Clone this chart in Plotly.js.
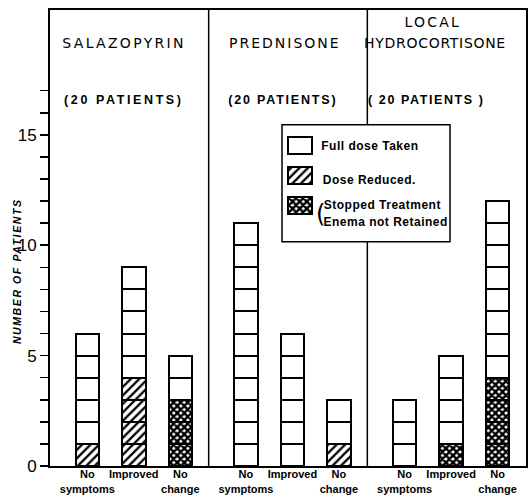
<!DOCTYPE html>
<html>
<head>
<meta charset="utf-8">
<script src="https://cdn.plot.ly/plotly-3.0.1.min.js"></script>
<style>
  html, body { margin: 0; padding: 0; background: #fff; }
  #chart { width: 529px; height: 497px; }
  .annotation[data-index="0"] text { letter-spacing: 2.3px; }
  .annotation[data-index="1"] text { letter-spacing: 2px; }
  .annotation[data-index="2"] text { letter-spacing: 2.2px; }
  .annotation[data-index="3"] text { letter-spacing: 0.7px; }
  .annotation[data-index="4"] text { letter-spacing: 2.6px; }
  .annotation[data-index="5"] text { letter-spacing: 1.8px; }
  .annotation[data-index="6"] text { letter-spacing: 1.6px; }
  .annotation[data-index="7"] text { letter-spacing: 1.6px; }
  .annotation[data-index="8"] text, .annotation[data-index="9"] text,
  .annotation[data-index="10"] text, .annotation[data-index="11"] text { letter-spacing: 0.5px; }
</style>
</head>
<body>
<div id="chart"></div>
<script>
// ---- data ----
const treatments = ['SALAZOPYRIN', 'PREDNISONE', 'LOCAL HYDROCORTISONE'];
const patientLabels = ['(20 PATIENTS)', '(20 PATIENTS)', '( 20 PATIENTS )'];
const outcomes = ['No<br>symptoms', 'Improved', 'No<br>change'];
// per bar, in order: Salazopyrin (3 outcomes), Prednisone (3), Local hydrocortisone (3)
const fullDose     = [5, 5, 2,  11, 6, 2,  3, 4, 8];
const doseReduced  = [1, 4, 0,   0, 0, 1,  0, 0, 0];
const stoppedTreat = [0, 0, 3,   0, 0, 0,  0, 1, 4];
const yTickVals = [0,1,2,3,4,5,6,7,8,9,10,11,12,13,14,15,16,17];
const yTickText = yTickVals.map(v => (v % 5 === 0 ? String(v) : ''));
const legendNames = ['Full dose Taken', 'Dose Reduced.', 'Stopped Treatment', 'Enema not Retained'];

// ---- layout helpers ----
const L = 50, R = 526, T = 10, B = 466.5, W = 529, H = 497;
const px = x => (x - L) / (R - L);
const py = y => (B - y) / (B - T);
const offset = 0.235, step = 0.293;
const xPos = [];
const xText = [];
treatments.forEach((t, g) => outcomes.forEach((o, i) => { xPos.push(g + offset + i * step); xText.push(o); }));

const PAT = { f: '', r: '/', s: 'x' };
const units = fullDose.map((f, c) => {
  const u = [];
  for (let k = 0; k < doseReduced[c]; k++) u.push('r');
  for (let k = 0; k < stoppedTreat[c]; k++) u.push('s');
  for (let k = 0; k < f; k++) u.push('f');
  return u;
});
const maxLayers = Math.max(...units.map(u => u.length));
const pSize = t => (t === 's' ? 5 : 6);
const pSolid = t => (t === 's' ? 0.72 : 0.38);

const traces = [];
for (let layer = 0; layer < maxLayers; layer++) {
  traces.push({
    type: 'bar',
    x: xPos,
    y: units.map(u => (layer < u.length ? 1 : null)),
    width: 0.148,
    marker: {
      color: 'white',
      line: { color: 'black', width: 2 },
      pattern: {
        shape: units.map(u => (layer < u.length ? PAT[u[layer]] : '')),
        fgcolor: 'black',
        bgcolor: 'white',
        size: units.map(u => pSize(u[layer])),
        solidity: units.map(u => pSolid(u[layer]))
      }
    },
    hoverinfo: 'skip',
    showlegend: false
  });
}
// legend swatches
traces.push({
  type: 'bar',
  orientation: 'h',
  y: [0, 1, 2],
  x: [1, 1, 1],
  width: 0.567,
  xaxis: 'x2', yaxis: 'y2',
  marker: {
    color: 'white',
    line: { color: 'black', width: 2 },
    pattern: { shape: ['', '/', 'x'], fgcolor: 'black', bgcolor: 'white',
      size: ['f', 'r', 's'].map(pSize), solidity: ['f', 'r', 's'].map(pSolid) }
  },
  hoverinfo: 'skip',
  showlegend: false
});

const titleFont = { family: 'DejaVu Sans, sans-serif', size: 14, color: 'black' };
const patFont = { family: 'Liberation Sans, Arial, sans-serif', size: 12.5, color: 'black', weight: 'bold' };
const legFont = { family: 'Liberation Sans, Arial, sans-serif', size: 12, color: 'black', weight: 'bold' };

const annotations = [
  { text: 'SALAZOPYRIN', x: px(124), y: py(43), font: titleFont },
  { text: 'PREDNISONE', x: px(285), y: py(43), font: titleFont },
  { text: 'LOCAL', x: px(433), y: py(22), font: titleFont },
  { text: 'HYDROCORTISONE', x: px(435), y: py(43), font: titleFont },
  { text: patientLabels[0], x: px(124), y: py(100), font: patFont },
  { text: patientLabels[1], x: px(283), y: py(100), font: patFont },
  { text: patientLabels[2], x: px(426), y: py(100), font: patFont },
  { text: 'NUMBER OF PATIENTS', x: px(17), y: py(272), textangle: -90,
    font: { family: 'Liberation Sans, Arial, sans-serif', size: 10.5, color: 'black', weight: 'bold', style: 'italic' } },
  { text: legendNames[0], x: px(323), y: py(146), xanchor: 'left', font: legFont },
  { text: legendNames[1], x: px(324), y: py(180), xanchor: 'left', font: legFont },
  { text: legendNames[2], x: px(326), y: py(205), xanchor: 'left', font: legFont },
  { text: legendNames[3], x: px(326), y: py(222), xanchor: 'left', font: legFont },
  { text: '(', x: px(320), y: py(214), font: { family: 'DejaVu Sans, sans-serif', size: 24, color: 'black' } }
].map(a => Object.assign({ xref: 'paper', yref: 'paper', showarrow: false, xanchor: 'center', yanchor: 'middle' }, a));

const layout = {
  width: W, height: H,
  margin: { l: L, r: W - R, t: T, b: H - B, pad: 0 },
  paper_bgcolor: 'white',
  plot_bgcolor: 'rgba(0,0,0,0)',
  barmode: 'stack',
  bargap: 0,
  xaxis: {
    range: [0, 3],
    tickvals: xPos, ticktext: xText,
    tickangle: 0,
    ticks: '',
    ticklabelstandoff: -3,
    showgrid: false, zeroline: false,
    showline: true, linecolor: 'black', linewidth: 2, mirror: true,
    tickfont: { family: 'Liberation Sans, Arial, sans-serif', size: 11, color: 'black', weight: 'bold' },
    automargin: false,
    fixedrange: true
  },
  yaxis: {
    range: [0, (B - T) / 22.1],
    tickvals: yTickVals, ticktext: yTickText,
    ticks: 'outside', ticklen: 8, tickwidth: 1.5, tickcolor: 'black',
    showgrid: false, zeroline: false,
    showline: true, linecolor: 'black', linewidth: 2, mirror: true,
    tickfont: { family: 'Liberation Sans, Arial, sans-serif', size: 17, color: 'black' },
    automargin: false,
    fixedrange: true
  },
  xaxis2: { domain: [px(285.6), px(314.4)], range: [-0.1, 1.1], visible: false, anchor: 'y2', fixedrange: true },
  yaxis2: { domain: [py(221), py(131)], range: [2.5, -0.5], visible: false, anchor: 'x2', fixedrange: true },
  shapes: [
    { type: 'line', xref: 'paper', yref: 'paper', x0: 1/3, x1: 1/3, y0: 0, y1: 1, line: { color: 'black', width: 1.5 }, layer: 'below' },
    { type: 'line', xref: 'paper', yref: 'paper', x0: 2/3, x1: 2/3, y0: 0, y1: 1, line: { color: 'black', width: 1.5 }, layer: 'below' },
    { type: 'rect', xref: 'paper', yref: 'paper', x0: px(282), x1: px(450), y0: py(242), y1: py(125),
      fillcolor: 'white', line: { color: 'black', width: 1.5 }, layer: 'below' }
  ],
  annotations: annotations
};

Plotly.newPlot('chart', traces, layout, { staticPlot: true, displayModeBar: false });
</script>
</body>
</html>
